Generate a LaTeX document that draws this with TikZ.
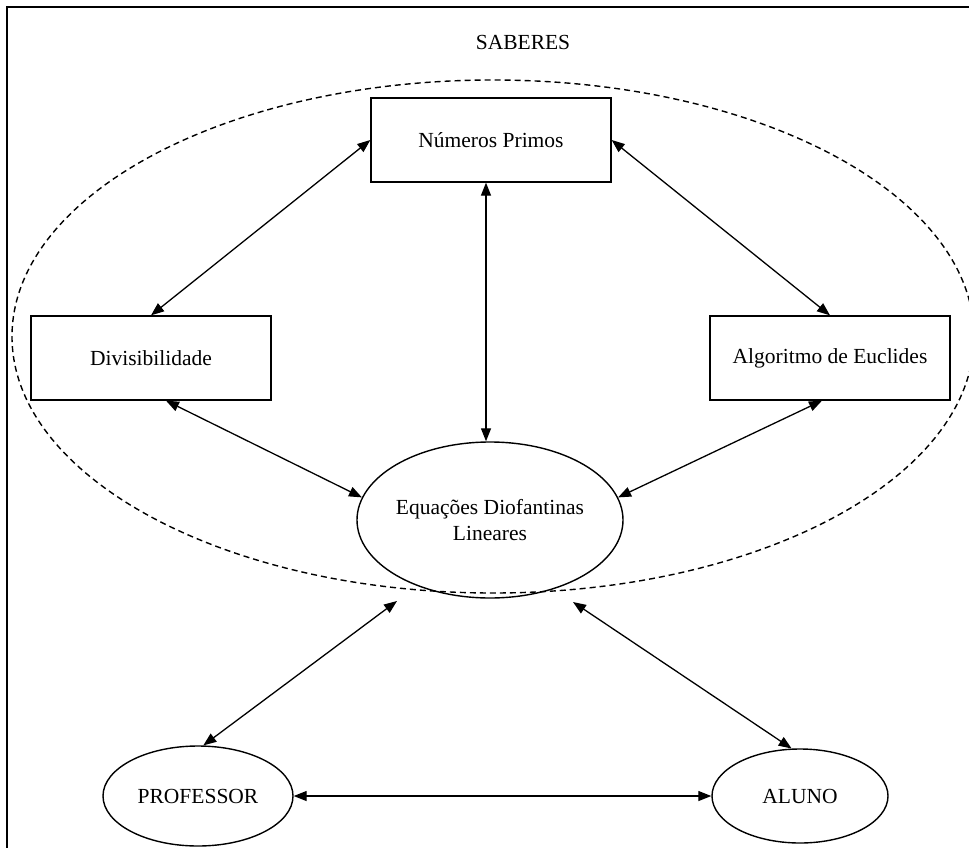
\documentclass[tikz,border=0pt]{standalone}
\usepackage{fontspec}
\setmainfont{Liberation Serif}
\usetikzlibrary{shapes.geometric,arrows.meta}
\begin{document}
\begin{tikzpicture}[x=1pt,y=-1pt,
  every node/.style={font=\fontsize{21.5}{26}\selectfont},
  boxnode/.style={draw,line width=1.3pt,minimum width=240pt,minimum height=84pt,inner sep=0pt},
  ellnode/.style={draw,ellipse,line width=1.4pt,inner sep=0pt,align=center},
  link/.style={line width=1.3pt,{Triangle[length=13pt,width=10pt]}-{Triangle[length=13pt,width=10pt]}},
  setline/.style={line width=1.4pt,dash pattern=on 6pt off 4pt}]
\useasboundingbox (0,0) rectangle (969,848);
\clip (0,0) rectangle (969,848);
\draw[line width=2.4pt] (7,7) rectangle (990,870);
\node (sab) at (523,42) {SABERES};
\draw[setline] (493,336.5) ellipse [x radius=481, y radius=256.5];
\node[boxnode] (np) at (491,140) {Números Primos};
\node[boxnode] (div) at (151,358) {Divisibilidade};
\node[boxnode] (alg) at (830,358) {Algoritmo de Euclides};
\node[ellnode,minimum width=266pt,minimum height=156pt] (equ) at (490,520) {Equações Diofantinas\\Lineares};
\node[ellnode,minimum width=190pt,minimum height=100pt] (prof) at (198,796) {PROFESSOR};
\node[ellnode,minimum width=176pt,minimum height=94pt] (alu) at (800,796) {ALUNO};
\coordinate (pa) at (397,601);
\coordinate (pb) at (573,602);
\draw[link] (np.west) -- (div.north);
\draw[link] (np.east) -- (alg.north);
\draw[link] ([xshift=-5pt]np.south) -- ([xshift=-4pt]equ.north);
\draw[link] ([xshift=15pt]div.south) -- (equ.170);
\draw[link] ([xshift=-8pt]alg.south) -- (equ.10);
\draw[link] (pa) -- (prof.84);
\draw[link] (pb) -- (alu.100);
\draw[link] (prof.east) -- (alu.west);
\end{tikzpicture}
\end{document}
